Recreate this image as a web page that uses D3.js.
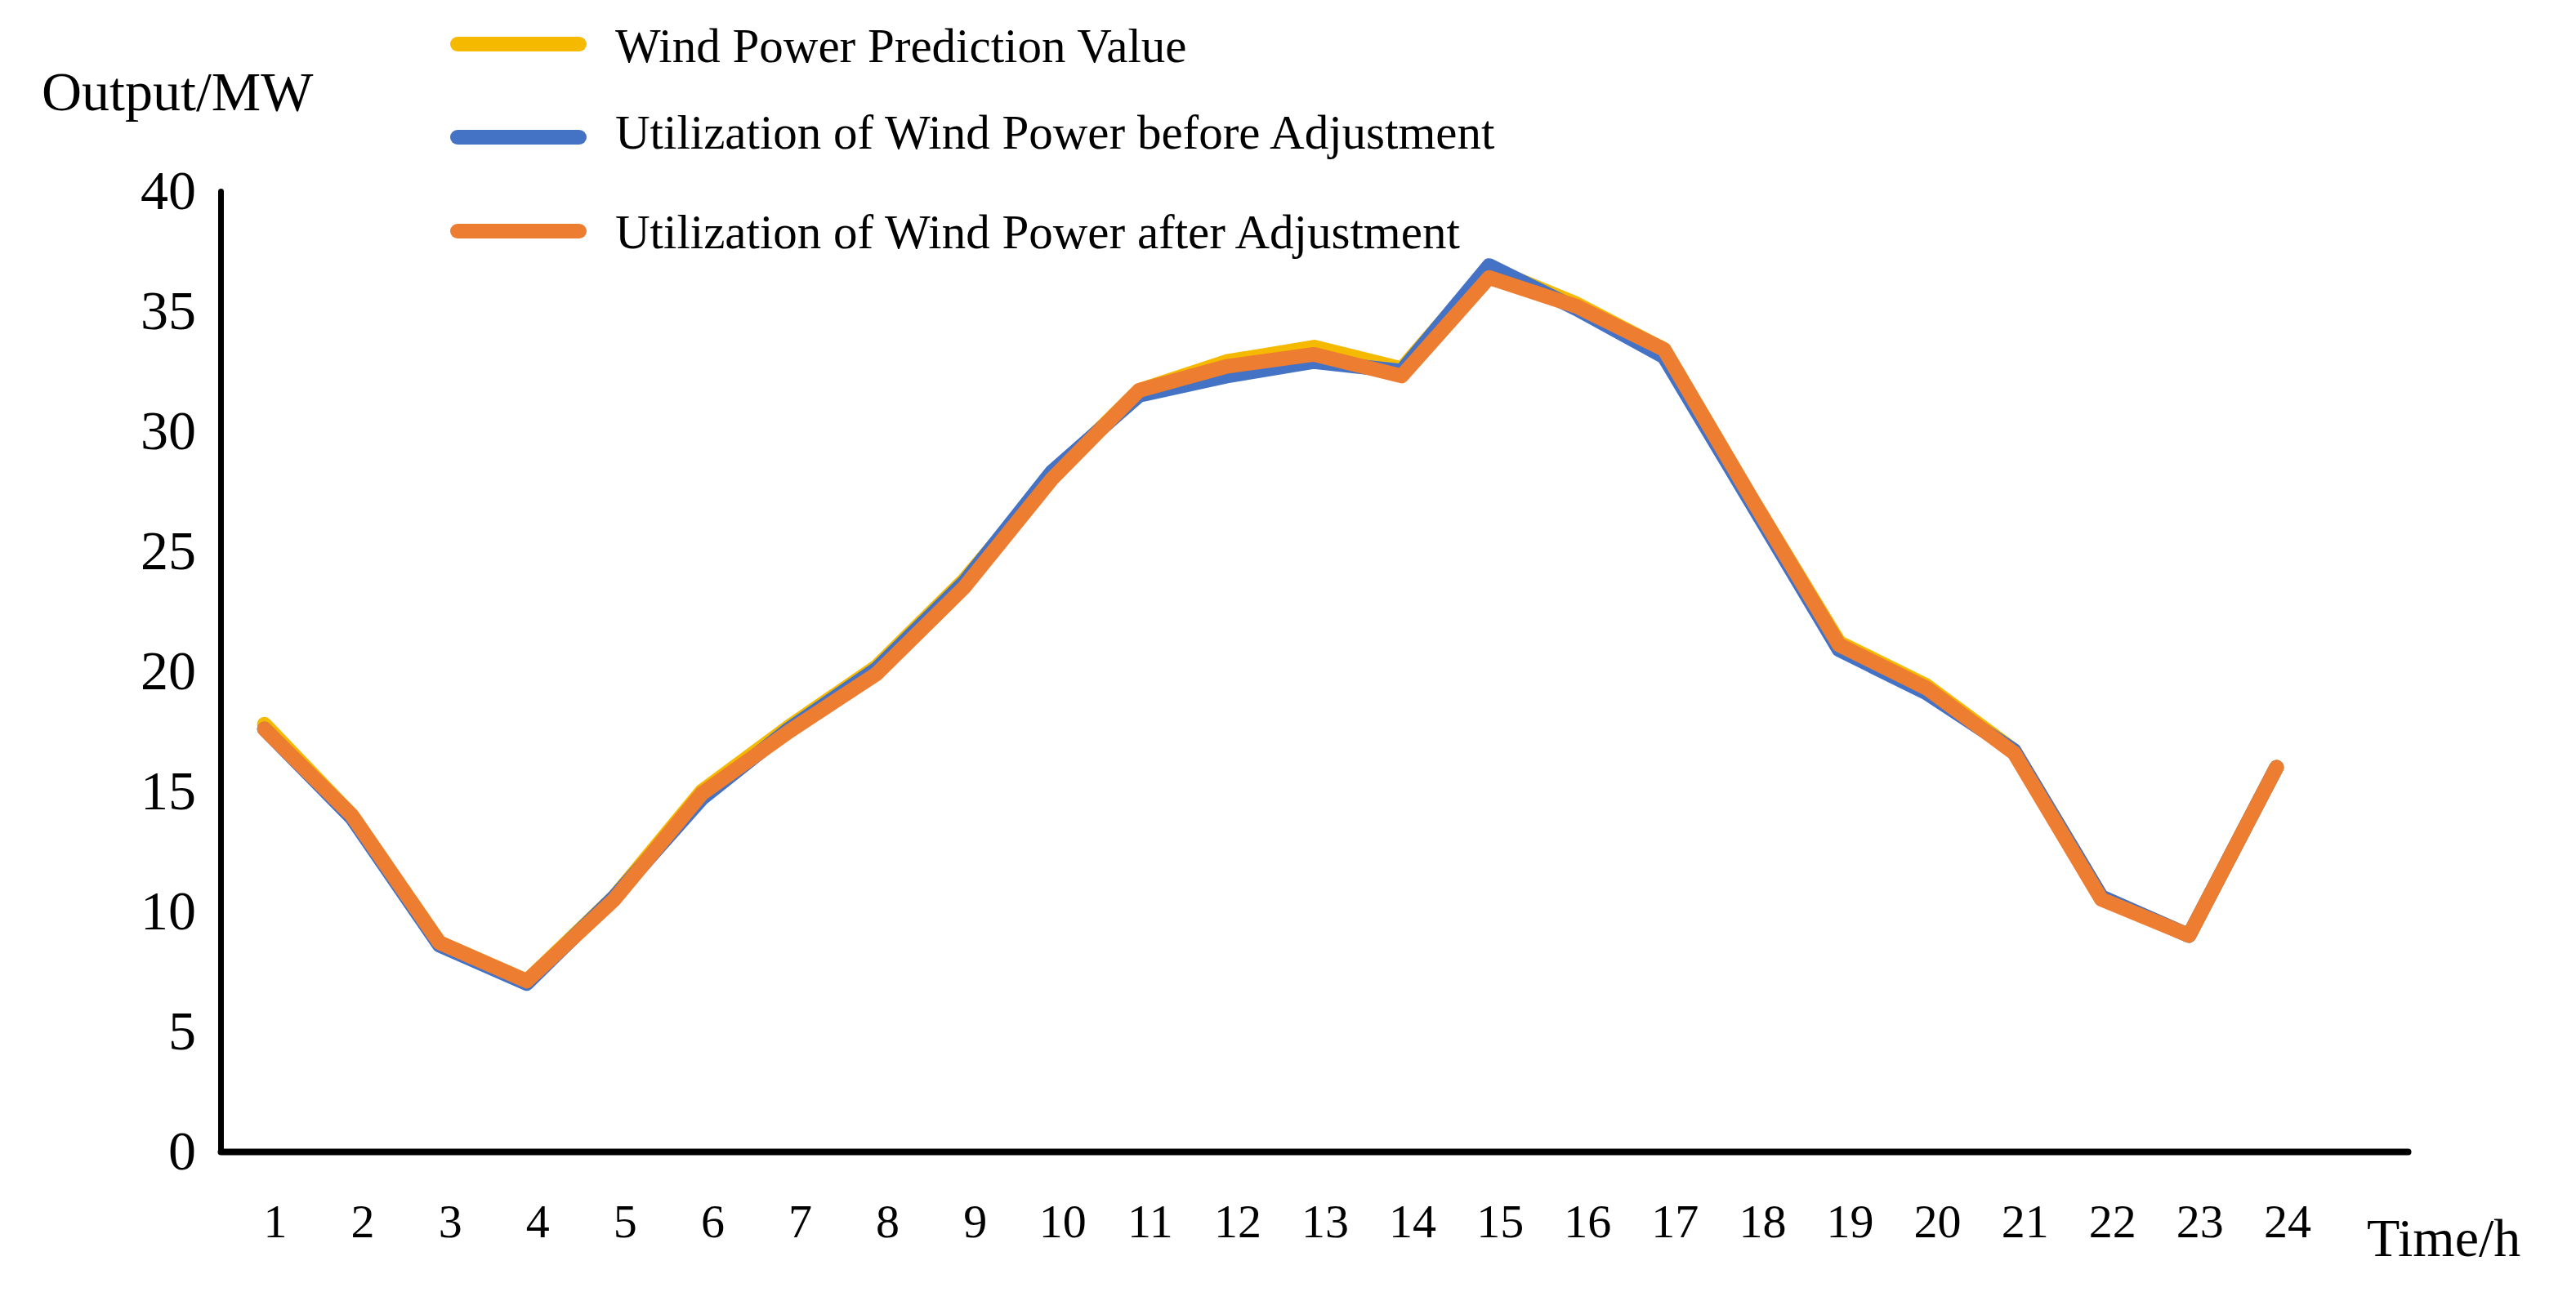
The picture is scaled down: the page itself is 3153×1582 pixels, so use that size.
<!DOCTYPE html>
<html>
<head>
<meta charset="utf-8">
<script src="https://cdn.jsdelivr.net/npm/d3@7"></script>
<style>
    body { margin: 0; background: #fff; }
    text { font-family: "Liberation Serif", "Times New Roman", serif; fill: #000; }
</style>
</head>
<body>
<div id="chart"></div>
<script>
// hours on the x axis
const hours = d3.range(1, 25);
const yTicks = [0, 5, 10, 15, 20, 25, 30, 35, 40];

// values (MW)
const prediction = [17.8, 14.0, 8.7, 7.1, 10.6, 15.0, 17.7, 20.2, 23.8, 28.1, 31.7, 32.9,
    33.5, 32.6, 36.8, 35.3, 33.4, 27.2, 21.2, 19.4, 16.7, 10.6, 9.0, 16.0];
const beforeAdj = [17.6, 13.9, 8.6, 7.0, 10.6, 14.7, 17.6, 20.1, 23.7, 28.3, 31.5, 32.3,
    32.9, 32.5, 36.9, 35.1, 33.1, 27.0, 20.9, 19.1, 16.7, 10.6, 9.0, 16.0];
const afterAdj = [17.6, 14.0, 8.7, 7.1, 10.5, 14.9, 17.5, 19.9, 23.5, 28.0, 31.7, 32.7,
    33.2, 32.3, 36.4, 35.2, 33.4, 27.2, 21.1, 19.3, 16.6, 10.5, 9.0, 16.0];

const seriesNames = [
    'Wind Power Prediction Value',
    'Utilization of Wind Power before Adjustment',
    'Utilization of Wind Power after Adjustment'
];
const seriesColors = ['#F5BA00', '#4472C4', '#ED7D31'];
const seriesValues = [prediction, beforeAdj, afterAdj];

let width = 3153;
let height = 1582;

const svg = d3.select('#chart')
    .append('svg')
    .attr('width', width)
    .attr('height', height);

const xScale = d3.scaleLinear()
    .domain([0.5, 25.5])
    .range([270, 2947]);

const yScale = d3.scaleLinear()
    .domain([0, 40])
    .range([1410, 234]);

// y axis
const yAxis = svg.append('g')
    .attr('transform', `translate(${xScale.range()[0]}, 0)`)
    .call(d3.axisLeft(yScale).tickValues(yTicks).tickSize(0).tickPadding(30));
yAxis.select('.domain')
    .attr('stroke', '#000')
    .attr('stroke-width', 7)
    .attr('stroke-linecap', 'round');
yAxis.selectAll('text')
    .style('font-size', '68px')
    .style('font-family', '"Liberation Serif", serif');

// lines
const line = d3.line()
    .x((d, i) => xScale(hours[i]))
    .y(d => yScale(d));

svg.append('g')
    .selectAll('path')
    .data(seriesValues)
    .join('path')
    .attr('d', d => line(d))
    .attr('fill', 'none')
    .attr('stroke', (d, i) => seriesColors[i])
    .attr('stroke-width', 18)
    .attr('stroke-linejoin', 'round')
    .attr('stroke-linecap', 'round');

// x axis
const xAxis = svg.append('g')
    .attr('transform', `translate(0, ${yScale(0)})`)
    .call(d3.axisBottom(xScale).tickValues(hours).tickSize(0).tickPadding(64).tickSizeOuter(0));
xAxis.select('.domain')
    .attr('stroke', '#000')
    .attr('stroke-width', 8)
    .attr('stroke-linecap', 'round');
xAxis.selectAll('text')
    .attr('dx', 13)
    .style('font-size', '58px')
    .style('font-family', '"Liberation Serif", serif');

// axis titles
svg.append('text')
    .attr('x', 51)
    .attr('y', 135)
    .style('font-size', '68px')
    .text('Output/MW');

svg.append('text')
    .attr('x', 2897)
    .attr('y', 1538)
    .style('font-size', '66px')
    .text('Time/h');

// legend
const legendY = [54, 168, 283];
const legend = svg.append('g')
    .selectAll('g')
    .data(seriesNames)
    .join('g')
    .attr('transform', (d, i) => `translate(0, ${legendY[i]})`);

legend.append('line')
    .attr('x1', 560)
    .attr('x2', 709)
    .attr('stroke', (d, i) => seriesColors[i])
    .attr('stroke-width', 18)
    .attr('stroke-linecap', 'round');

legend.append('text')
    .attr('x', 753)
    .attr('y', (d, i) => [22, 14, 21][i])
    .style('font-size', '59px')
    .text(d => d);
</script>
</body>
</html>
